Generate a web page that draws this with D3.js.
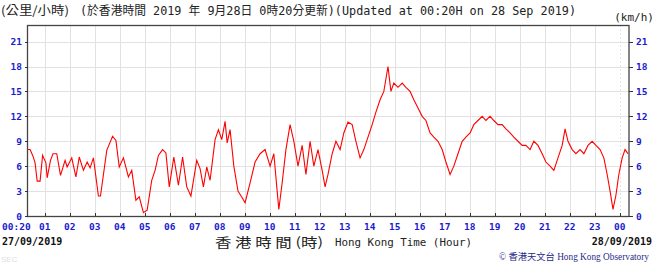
<!DOCTYPE html>
<html>
<head>
<meta charset="utf-8">
<script src="https://cdn.jsdelivr.net/npm/d3@7"></script>
<style>
  body { margin: 0; background: #fff; }
  svg { display: block; }
</style>
</head>
<body>
<script>
// wind speed, minutes after 00:00 on 27/09/2019
var minutes = [20, 25, 32, 37, 42, 49, 55, 63, 66, 74, 80, 89, 98, 109, 114, 125, 135, 143, 153, 162,
  169, 177, 189, 194, 209, 223, 231, 239, 249, 261, 269, 279, 287, 297, 306, 317, 325, 333, 343, 351,
  359, 370, 381, 391, 401, 411, 425, 433, 441, 449, 457, 469, 477, 485, 493, 498, 505, 514, 524, 534,
  541, 553, 565, 577, 589, 601, 610, 618, 622, 630, 639, 649, 658, 668, 678, 687, 697, 706, 716, 726,
  733, 740, 750, 759, 769, 778, 788, 798, 807, 817, 826, 836, 846, 855, 865, 874, 884, 891, 898, 908,
  918, 927, 937, 946, 956, 966, 975, 985, 994, 1004, 1014, 1023, 1033, 1042, 1052, 1062, 1071, 1081, 1090, 1100,
  1110, 1119, 1129, 1138, 1148, 1158, 1167, 1177, 1186, 1196, 1206, 1215, 1225, 1234, 1244, 1254, 1263, 1273, 1282, 1292,
  1302, 1309, 1316, 1326, 1335, 1345, 1354, 1364, 1374, 1383, 1393, 1402, 1410, 1417, 1424, 1431, 1438, 1446, 1453, 1460];
var speeds = [8.0, 8.0, 7.2, 6.4, 4.2, 4.2, 7.3, 6.4, 4.6, 6.7, 7.5, 7.5, 4.9, 6.7, 5.9, 7.0, 4.7, 7.1, 5.5, 6.5,
  5.8, 7.0, 2.4, 2.4, 7.9, 9.6, 9.1, 5.9, 7.0, 4.7, 5.5, 1.9, 2.3, 0.4, 0.7, 4.3, 5.5, 7.3, 8.0, 7.6,
  3.5, 7.1, 3.7, 7.1, 3.5, 2.4, 6.7, 5.7, 3.5, 5.9, 4.3, 9.2, 10.4, 9.2, 11.4, 8.8, 10.4, 6.0, 3.0, 2.2,
  1.6, 4.0, 6.5, 7.5, 8.0, 6.0, 7.5, 3.0, 0.8, 4.0, 8.0, 11.0, 9.0, 6.0, 8.5, 5.0, 9.0, 6.0, 8.0, 5.5,
  3.5, 5.0, 7.5, 9.0, 8.0, 10.0, 11.3, 11.0, 9.0, 7.0, 8.0, 9.5, 11.0, 12.5, 14.0, 15.0, 18.0, 15.0, 16.0, 15.5,
  16.0, 15.5, 15.0, 14.0, 13.0, 12.0, 11.5, 10.0, 9.5, 9.0, 8.0, 6.5, 5.0, 6.0, 7.5, 9.0, 9.5, 10.0, 11.0, 11.5,
  12.0, 11.5, 12.0, 11.5, 11.0, 11.0, 10.5, 10.0, 9.5, 9.0, 8.5, 8.5, 8.0, 9.0, 8.5, 7.5, 6.5, 6.0, 5.5, 7.0,
  8.5, 10.5, 9.0, 8.0, 7.5, 8.0, 7.5, 8.5, 9.0, 8.5, 8.0, 7.0, 5.0, 3.0, 0.8, 2.5, 5.0, 7.0, 8.0, 7.5];

var yTicks = [0, 3, 6, 9, 12, 15, 18, 21];
var hourTicks = d3.range(1, 25);          // 01 ... 23, 00
var firstLabel = "00:20";

var w = 656, h = 265;
var pLeft = 28, pRight = 628, pTop = 25, pBottom = 216;

var x = d3.scaleLinear().domain([20, 1460]).range([pLeft, pRight]);
var y = d3.scaleLinear().domain([0, 23]).range([pBottom, pTop]);

var svg = d3.select("body").append("svg")
  .attr("width", w)
  .attr("height", h);

var mono = "'DejaVu Sans Mono', monospace";
var blue = "#1c1ccf";

// grid
svg.append("g").selectAll("line")
  .data(yTicks.filter(function(d) { return d > 0; }))
  .enter().append("line")
  .attr("x1", pLeft).attr("x2", pRight + 1)
  .attr("y1", function(d) { return Math.round(y(d)) + 0.5; })
  .attr("y2", function(d) { return Math.round(y(d)) + 0.5; })
  .attr("stroke", "#e2e2e2");

svg.append("g").selectAll("line")
  .data(hourTicks)
  .enter().append("line")
  .attr("x1", function(d) { return Math.round(x(d * 60)) + 0.5; })
  .attr("x2", function(d) { return Math.round(x(d * 60)) + 0.5; })
  .attr("y1", pTop).attr("y2", pBottom)
  .attr("stroke", "#e2e2e2")
  .attr("stroke-dasharray", function(d) { return d === 24 ? "2,2" : null; });

// the trace
var line = d3.line()
  .x(function(d, i) { return x(minutes[i]); })
  .y(function(d) { return y(d); });

svg.append("path")
  .attr("d", line(speeds))
  .attr("fill", "none")
  .attr("stroke", "#ff0000")
  .attr("stroke-width", 1.1);

// frame
svg.append("rect")
  .attr("x", pLeft - 0.5).attr("y", pTop + 0.5)
  .attr("width", pRight - pLeft + 1.5).attr("height", pBottom - pTop)
  .attr("fill", "none")
  .attr("stroke", "#444")
  .attr("stroke-width", 1.3);

// tick marks
svg.append("g").selectAll("line")
  .data(hourTicks)
  .enter().append("line")
  .attr("x1", function(d) { return Math.round(x(d * 60)) + 0.5; })
  .attr("x2", function(d) { return Math.round(x(d * 60)) + 0.5; })
  .attr("y1", pBottom - 3).attr("y2", pBottom)
  .attr("stroke", "#333");

svg.append("g").selectAll("line")
  .data(yTicks)
  .enter().append("line")
  .attr("x1", pLeft - 3).attr("x2", pLeft)
  .attr("y1", function(d) { return Math.round(y(d)) + 0.5; })
  .attr("y2", function(d) { return Math.round(y(d)) + 0.5; })
  .attr("stroke", "#333");

svg.append("g").selectAll("line")
  .data(yTicks)
  .enter().append("line")
  .attr("x1", pRight + 1).attr("x2", pRight + 5)
  .attr("y1", function(d) { return Math.round(y(d)) + 0.5; })
  .attr("y2", function(d) { return Math.round(y(d)) + 0.5; })
  .attr("stroke", "#333");

// axis labels
svg.append("g").selectAll("text")
  .data(yTicks)
  .enter().append("text")
  .attr("x", pLeft - 6).attr("y", function(d) { return y(d) + 3.5; })
  .attr("text-anchor", "end")
  .attr("font-family", mono).attr("font-weight", "bold").attr("font-size", 9.5)
  .attr("fill", blue)
  .text(function(d) { return d; });

svg.append("g").selectAll("text")
  .data(yTicks)
  .enter().append("text")
  .attr("x", pRight + 8).attr("y", function(d) { return y(d) + 3.5; })
  .attr("font-family", mono).attr("font-weight", "bold").attr("font-size", 9.5)
  .attr("fill", blue)
  .text(function(d) { return d; });

svg.append("g").selectAll("text")
  .data(hourTicks)
  .enter().append("text")
  .attr("x", function(d) { return x(d * 60); })
  .attr("y", 230)
  .attr("text-anchor", "middle")
  .attr("font-family", mono).attr("font-weight", "bold").attr("font-size", 9.5)
  .attr("fill", blue)
  .text(function(d) { return d3.format("02")(d % 24); });

svg.append("text")
  .attr("x", 2).attr("y", 230)
  .attr("font-family", mono).attr("font-weight", "bold").attr("font-size", 9.5)
  .attr("fill", blue)
  .text(firstLabel);

// titles
svg.append("text")
  .attr("x", 1).attr("y", 15)
  .attr("font-family", "'Noto Sans CJK TC', sans-serif").attr("font-size", 12)
  .attr("fill", "#222")
  .attr("textLength", 68).attr("lengthAdjust", "spacingAndGlyphs")
  .text("(公里/小時)");

svg.append("text")
  .attr("x", 80).attr("y", 15)
  .attr("font-family", mono + ", 'Noto Sans CJK TC'").attr("font-size", 12)
  .attr("fill", "#222")
  .attr("textLength", 496).attr("lengthAdjust", "spacingAndGlyphs")
  .text("(於香港時間 2019 年 9月28日 0時20分更新)(Updated at 00:20H on 28 Sep 2019)");

svg.append("text")
  .attr("x", 654).attr("y", 21)
  .attr("text-anchor", "end")
  .attr("font-family", mono).attr("font-size", 11)
  .attr("fill", "#222")
  .text("(km/h)");

svg.append("text")
  .attr("x", 2).attr("y", 245)
  .attr("font-family", mono).attr("font-weight", "bold").attr("font-size", 10)
  .attr("fill", "#111")
  .text("27/09/2019");

svg.append("text")
  .attr("x", 652).attr("y", 245)
  .attr("text-anchor", "end")
  .attr("font-family", mono).attr("font-weight", "bold").attr("font-size", 10)
  .attr("fill", "#111")
  .text("28/09/2019");

svg.append("text")
  .attr("x", 215).attr("y", 247)
  .attr("font-family", "'Noto Sans CJK TC', sans-serif").attr("font-size", 13)
  .attr("fill", "#222")
  .attr("textLength", 108).attr("lengthAdjust", "spacingAndGlyphs")
  .text("香 港 時 間 (時)");

svg.append("text")
  .attr("x", 335).attr("y", 246)
  .attr("font-family", mono).attr("font-size", 11)
  .attr("fill", "#222")
  .attr("textLength", 137).attr("lengthAdjust", "spacingAndGlyphs")
  .text("Hong Kong Time (Hour)");

svg.append("text")
  .attr("x", 499).attr("y", 260)
  .attr("font-family", "'Liberation Serif', 'Noto Sans CJK TC', serif").attr("font-size", 9.5)
  .attr("fill", "#2a2a8a")
  .attr("textLength", 150).attr("lengthAdjust", "spacingAndGlyphs")
  .text("© 香港天文台 Hong Kong Observatory");

svg.append("text")
  .attr("x", 1).attr("y", 262)
  .attr("font-family", "sans-serif").attr("font-size", 8)
  .attr("fill", "#e0e0e0")
  .text("SEC");
</script>
</body>
</html>
